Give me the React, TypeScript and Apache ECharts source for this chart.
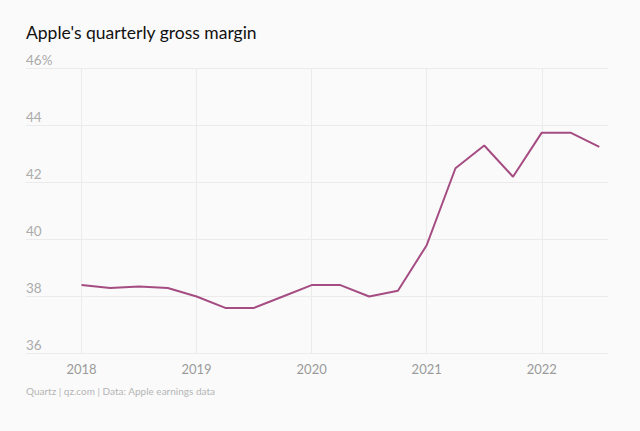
import React, { useEffect, useRef } from "react";
import * as echarts from "echarts";

const quarters = [
  "2018 Q1", "2018 Q2", "2018 Q3", "2018 Q4",
  "2019 Q1", "2019 Q2", "2019 Q3", "2019 Q4",
  "2020 Q1", "2020 Q2", "2020 Q3", "2020 Q4",
  "2021 Q1", "2021 Q2", "2021 Q3", "2021 Q4",
  "2022 Q1", "2022 Q2", "2022 Q3",
];
const grossMargin = [
  38.4, 38.3, 38.35, 38.3,
  38.0, 37.6, 37.6, 38.0,
  38.4, 38.4, 38.0, 38.2,
  39.8, 42.5, 43.3, 42.2,
  43.75, 43.75, 43.25,
];
const yTicks = { min: 36, max: 46, interval: 2 };

const TITLE = "Apple's quarterly gross margin";
const SOURCE = "Quartz | qz.com | Data: Apple earnings data";
const FONT = "Lato, 'Noto Sans', sans-serif";

export default function App() {
  const ref = useRef<HTMLDivElement>(null);
  useEffect(() => {
    document.body.style.margin = "0";
    document.body.style.background = "#fafafa";
    const chart = echarts.init(ref.current!, null, { renderer: "svg" });
    const top = 68.5;
    const bottom = 431 - 353.5;
    chart.setOption({
      animation: false,
      backgroundColor: "#fafafa",
      textStyle: { fontFamily: FONT },
      title: {
        text: TITLE,
        left: 26,
        top: 23,
        padding: 0,
        textStyle: { fontSize: 17.5, fontWeight: "normal", color: "#111", fontFamily: FONT },
      },
      graphic: [
        {
          type: "text",
          left: 26,
          top: 386,
          style: { text: SOURCE, fontSize: 10, fill: "#b5b5b5", fontFamily: FONT },
        },
      ],
      grid: [
        { left: 81.5, right: 640 - 599.3, top, bottom, containLabel: false },
        { left: 26, right: 640 - 608, top, bottom, containLabel: false },
      ],
      xAxis: [
        {
          type: "category",
          gridIndex: 0,
          data: quarters,
          boundaryGap: false,
          axisLine: { show: false },
          axisTick: { show: false },
          splitLine: {
            show: true,
            interval: (i: number) => i % 4 === 0,
            lineStyle: { color: "#ebebeb", width: 1 },
          },
          axisLabel: {
            interval: (i: number) => i % 4 === 0,
            formatter: (v: string) => v.slice(0, 4),
            color: "#9a9a9a",
            fontSize: 13,
            margin: 9,
            fontFamily: FONT,
          },
        },
        {
          type: "value",
          gridIndex: 1,
          min: 0,
          max: 1,
          show: false,
        },
      ],
      yAxis: [
        {
          type: "value",
          gridIndex: 0,
          min: yTicks.min,
          max: yTicks.max,
          interval: yTicks.interval,
          show: false,
        },
        {
          type: "value",
          gridIndex: 1,
          min: yTicks.min,
          max: yTicks.max,
          interval: yTicks.interval,
          axisLine: { show: false },
          axisTick: { show: false },
          splitLine: { show: true, lineStyle: { color: "#ebebeb", width: 1 } },
          axisLabel: {
            inside: true,
            margin: 0,
            align: "left",
            verticalAlign: "bottom",
            padding: [0, 0, 2, 0],
            color: "#ababab",
            fontSize: 13.5,
            fontFamily: FONT,
            formatter: (v: number) => (v === yTicks.max ? v + "%" : String(v)),
          },
        },
      ],
      series: [
        {
          type: "line",
          xAxisIndex: 0,
          yAxisIndex: 0,
          data: grossMargin,
          symbol: "none",
          lineStyle: { color: "#a54d82", width: 2 },
          z: 5,
        },
      ],
    });
    return () => chart.dispose();
  }, []);
  return <div ref={ref} style={{ width: 640, height: 431, background: "#fafafa" }} />;
}
